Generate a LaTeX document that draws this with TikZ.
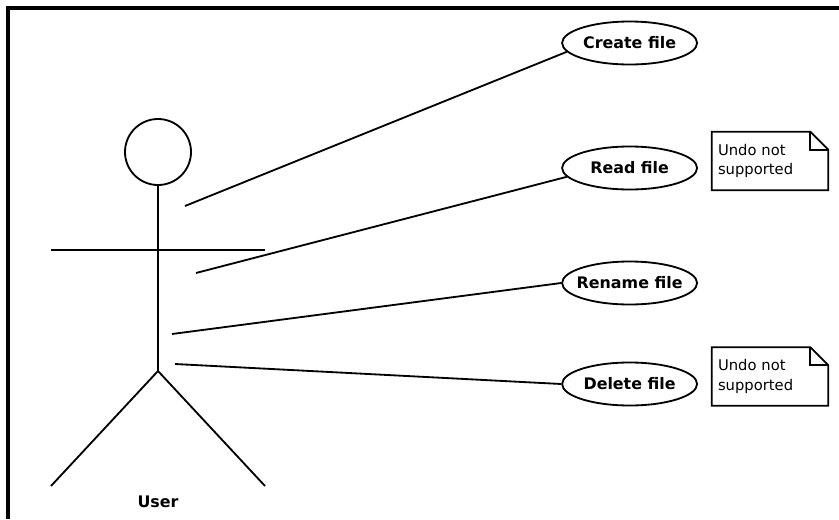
\documentclass[tikz,border=0pt]{standalone}
\usepackage{fontspec}
\setmainfont{DejaVu Sans}
\usepackage{tikz}
\usetikzlibrary{shapes.geometric,positioning,calc}

\begin{document}
\begin{tikzpicture}[
    usecase/.style={ellipse, draw, line width=1.3pt, minimum width=3.375cm, minimum height=1.075cm, inner xsep=-0.4cm, inner ysep=0pt, font=\fontsize{11.3}{13}\selectfont\bfseries},
    note/.style={rectangle, minimum width=2.9cm, minimum height=1.45cm, text width=2.6cm, inner sep=0.15cm, align=left, font=\fontsize{10.5}{14}\selectfont},
    limb/.style={line width=1.3pt},
    link/.style={line width=1.3pt}
]
\useasboundingbox (0,0) rectangle (20.975,12.975);

% Frame
\draw[line width=2.2pt] (0.2,0) -- (0.2,12.775) -- (20.975,12.775);

% Actor
\node[circle, draw, line width=1.3pt, minimum size=1.65cm, inner sep=0pt] (head) at (3.95,9.175) {};
\coordinate (hip) at (3.95,3.7);
\coordinate (lhand) at (1.275,6.725);
\coordinate (rhand) at (6.625,6.725);
\coordinate (lfoot) at (1.275,0.825);
\coordinate (rfoot) at (6.625,0.825);
\draw[limb] (head.south) -- (hip);
\draw[limb] (lhand) -- (rhand);
\draw[limb] (lfoot) -- (hip) -- (rfoot);
\node[font=\fontsize{11.3}{13}\selectfont\bfseries] (user) at (3.95,0.425) {User};

% Use cases
\node[usecase] (create) at (15.74,11.9) {Create file};
\node[usecase] (read) at (15.74,8.775) {Read file};
\node[usecase] (rename) at (15.74,5.9) {Rename file};
\node[usecase] (delete) at (15.74,3.375) {Delete file};

\coordinate (a1) at (4.625,7.825);
\coordinate (a2) at (4.9,6.15);
\coordinate (a3) at (4.3,4.625);
\coordinate (a4) at (4.375,3.875);
\draw[link] (a1) -- (create.188);
\draw[link] (a2) -- (read.188);
\draw[link] (a3) -- (rename.west);
\draw[link] (a4) -- (delete.west);

% Notes
\node[note] (readnote) at (19.25,8.95) {Undo not\\supported};
\node[note] (deletenote) at (19.25,3.5625) {Undo not\\supported};
\foreach \n in {readnote, deletenote} {
    \draw[line width=1.3pt] (\n.north west) -- ([xshift=-0.45cm]\n.north east) -- ([yshift=-0.45cm]\n.north east) -- (\n.south east) -- (\n.south west) -- cycle;
    \draw[line width=1.3pt] ([xshift=-0.45cm]\n.north east) -- ([xshift=-0.45cm,yshift=-0.45cm]\n.north east) -- ([yshift=-0.45cm]\n.north east);
}

\end{tikzpicture}
\end{document}
